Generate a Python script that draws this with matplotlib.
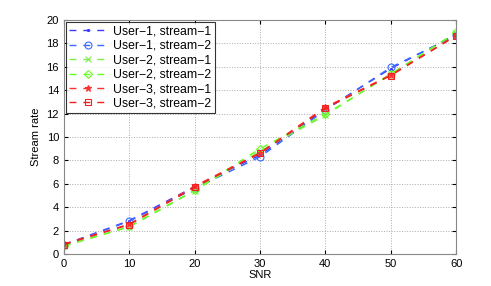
import matplotlib
matplotlib.use('Agg')
import matplotlib.pyplot as plt

snr = [0, 10, 20, 30, 40, 50, 60]

u1_s1 = [0.80, 2.85, 5.75, 8.45, 12.35, 15.85, 18.75]
u1_s2 = [0.75, 2.80, 5.60, 8.30, 12.30, 15.95, 18.70]
u2_s1 = [0.70, 2.30, 5.40, 8.80, 11.85, 15.40, 18.90]
u2_s2 = [0.65, 2.35, 5.45, 9.00, 11.95, 15.35, 18.95]
u3_s1 = [0.85, 2.55, 5.80, 8.65, 12.55, 15.30, 18.70]
u3_s2 = [0.80, 2.50, 5.70, 8.60, 12.45, 15.25, 18.65]

series = [u1_s1, u1_s2, u2_s1, u2_s2, u3_s1, u3_s2]
labels = ['User\u22121, stream\u22121', 'User\u22121, stream\u22122',
          'User\u22122, stream\u22121', 'User\u22122, stream\u22122',
          'User\u22123, stream\u22121', 'User\u22123, stream\u22122']
colors = ['#3a3aff', '#3a6aff', '#7dee4a', '#66ff22', '#ff3030', '#ee2020']
markers = ['.', 'o', 'x', 'D', '*', 's']
msizes = [3, 5, 4, 4.5, 4.5, 4.5]

plt.rcParams['font.family'] = ['Liberation Sans', 'DejaVu Sans']
fig = plt.figure(figsize=(4.91, 2.86), dpi=100)
ax = fig.add_axes([0.130, 0.112, 0.799, 0.818])

for y, c, m, ms, lab in zip(series, colors, markers, msizes, labels):
    ax.plot(snr, y, linestyle=(0, (5, 5)), color=c, marker=m, markersize=ms,
            markerfacecolor='none' if m not in ['.', 'x', '*'] else c,
            markeredgewidth=0.8, linewidth=1.0, label=lab)

ax.set_xlim(0, 60)
ax.set_ylim(0, 20)
ax.set_xticks(range(0, 61, 10))
ax.set_yticks(range(0, 21, 2))
ax.tick_params(direction='in', labelsize=8, length=3, top=True, right=True)
ax.grid(True, linestyle=':', color='#aaaaaa', linewidth=0.7)
ax.set_xlabel('SNR', fontsize=8, labelpad=1)
ax.set_ylabel('Stream rate', fontsize=8)
for s in ax.spines.values():
    s.set_color('#888888')

leg = ax.legend(loc='upper left', fontsize=8.8, frameon=True, fancybox=False,
                edgecolor='black', handlelength=3.0, borderpad=0.3,
                labelspacing=0.2, handletextpad=0.6, borderaxespad=0.15)
leg.get_frame().set_linewidth(0.8)

fig.savefig('out.png', dpi=100)
